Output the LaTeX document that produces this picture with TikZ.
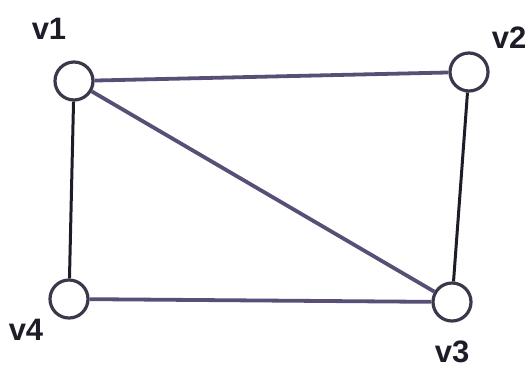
\documentclass[tikz,border=0pt]{standalone}
\usepackage{fontspec}
\setmainfont{Liberation Sans}
\definecolor{edgeP}{RGB}{88,78,118}
\definecolor{edgeD}{RGB}{30,28,40}
\definecolor{ringC}{RGB}{60,55,75}
\begin{document}
\begin{tikzpicture}[x=1pt,y=-1pt,
  vert/.style={circle,draw=ringC,line width=3.2pt,fill=white,minimum size=38pt,inner sep=0pt},
  lbl/.style={font=\bfseries\fontsize{31}{31}\selectfont,text=edgeD,inner sep=0pt},
  pedge/.style={draw=edgeP,line width=3.8pt},
  dedge/.style={draw=edgeD,line width=3pt}]
\useasboundingbox (0,0) rectangle (529,376);
\node[vert] (v1) at (74,81) {};
\node[vert] (v2) at (469,72) {};
\node[vert] (v3) at (452,302) {};
\node[vert] (v4) at (69,299) {};
\draw[pedge] (v1) -- (v2);
\draw[pedge] (v1) -- (v3);
\draw[pedge] (v4) -- (v3);
\draw[dedge] (v1) -- (v4);
\draw[dedge] (v2) -- (v3);
\node[lbl] (l1) at (49,29) {v1};
\node[lbl] (l2) at (509,38) {v2};
\node[lbl] (l3) at (452,352) {v3};
\node[lbl] (l4) at (26,330) {v4};
\end{tikzpicture}
\end{document}
